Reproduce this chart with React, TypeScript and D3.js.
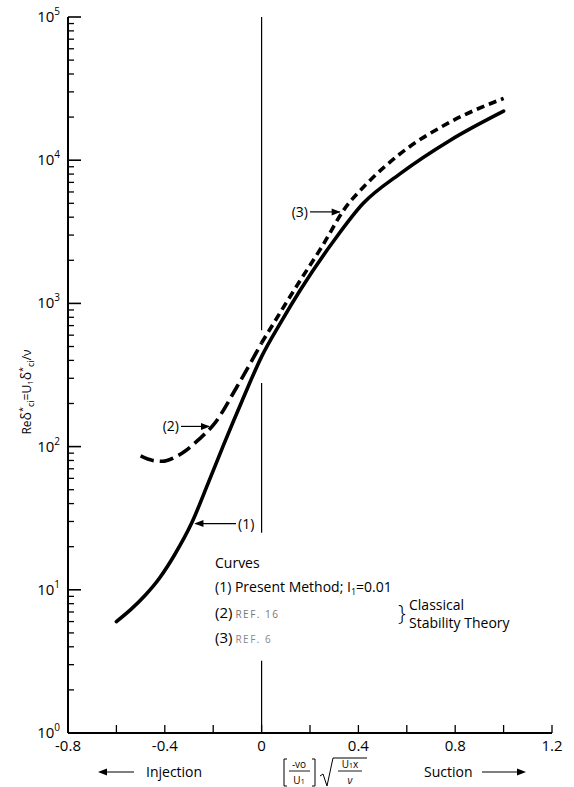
import * as d3 from "d3";

// axis ticks
const xTicks = [-0.8, -0.6, -0.4, -0.2, 0, 0.2, 0.4, 0.6, 0.8, 1.0, 1.2];
const xTickLabels = ["-0.8", "-0.4", "0", "0.4", "0.8", "1.2"];
const xLabelValues = [-0.8, -0.4, 0, 0.4, 0.8, 1.2];
const yDecades = [0, 1, 2, 3, 4, 5];
const minorMult = [2, 3, 4, 5, 6, 7, 8, 9];

// curve (1) present method
const presentX = [-0.6, -0.54, -0.48, -0.42, -0.36, -0.29, -0.22, -0.16, -0.08, 0, 0.08, 0.16, 0.3, 0.42, 0.57, 0.78, 1.0];
const presentRe = [6, 7.3, 9.2, 12.2, 17.5, 29, 56, 100, 210, 425, 740, 1240, 2760, 5000, 8000, 13800, 22000];

// curve (2) ref. 16
const ref16X = [-0.5, -0.45, -0.41, -0.36, -0.32, -0.26, -0.2, -0.1, 0];
const ref16Re = [86, 80, 79, 84, 92, 112, 141, 265, 530];

// curve (3) ref. 6
const ref6X = [0, 0.08, 0.16, 0.25, 0.34, 0.44, 0.57, 0.78, 1.0];
const ref6Re = [530, 880, 1450, 2500, 4500, 7000, 11000, 18500, 27000];

const W = 574;
const H = 787;
const font = "'Open Sans', 'Liberation Sans', sans-serif";

export default function App() {
  const x = d3.scaleLinear().domain([-0.8, 1.2]).range([68, 552]);
  const y = d3.scaleLog().domain([1, 1e5]).range([733, 17]);

  const line = d3
    .line<[number, number]>()
    .x(d => x(d[0]))
    .y(d => y(d[1]))
    .curve(d3.curveMonotoneX);

  const zip = (xs: number[], vs: number[]) => xs.map((v, i) => [v, vs[i]] as [number, number]);
  const interp = (xs: number[], vs: number[], at: number) => {
    const i = Math.max(1, d3.bisectLeft(xs, at));
    const t = (at - xs[i - 1]) / (xs[i] - xs[i - 1]);
    return Math.pow(10, Math.log10(vs[i - 1]) + t * (Math.log10(vs[i]) - Math.log10(vs[i - 1])));
  };

  const x0 = x(0);
  const arrowHead = (tx: number, ty: number, dir: number) =>
    `${tx},${ty} ${tx - dir * 9},${ty - 3.5} ${tx - dir * 9},${ty + 3.5}`;

  const tip1 = [x(-0.29), y(interp(presentX, presentRe, -0.29))];
  const tip2 = [x(-0.205), y(interp(ref16X, ref16Re, -0.205))];
  const tip3 = [x(0.335), y(interp(ref6X, ref6Re, 0.335))];

  // vertical reference line at zero (broken where the curves cross)
  const vSegments: [number, number][] = [
    [1e5, 650],
    [278, 25],
    [3.2, 1],
  ];

  return (
    <div style={{ position: "absolute", left: 0, top: 0 }}>
      <svg width={W} height={H} style={{ display: "block", background: "#fff" }} fontFamily={font}>
        {/* y axis */}
        <line x1={x(-0.8)} x2={x(-0.8)} y1={y(1e5)} y2={y(1)} stroke="#000" strokeWidth={2} />
        {yDecades.map(d => (
          <g key={"yd" + d}>
            <line x1={x(-0.8)} x2={x(-0.8) + 13} y1={y(Math.pow(10, d))} y2={y(Math.pow(10, d))} stroke="#000" strokeWidth={1.6} />
            <text x={x(-0.8) - 8} y={y(Math.pow(10, d)) + 5} fontSize={15} textAnchor="end">
              10
              <tspan dy={-7} fontSize={10}>{d}</tspan>
            </text>
          </g>
        ))}
        {yDecades.slice(0, 5).map(d =>
          minorMult.map(m => (
            <line
              key={`ym${d}-${m}`}
              x1={x(-0.8)}
              x2={x(-0.8) + 6}
              y1={y(m * Math.pow(10, d))}
              y2={y(m * Math.pow(10, d))}
              stroke="#000"
              strokeWidth={1.3}
            />
          ))
        )}

        {/* x axis */}
        <line x1={x(-0.8)} x2={x(1.2)} y1={y(1)} y2={y(1)} stroke="#000" strokeWidth={2} />
        {xTicks.map(t => (
          <line key={"xt" + t} x1={x(t)} x2={x(t)} y1={y(1)} y2={y(1) - 8} stroke="#000" strokeWidth={1.3} />
        ))}
        {xLabelValues.map((t, i) => (
          <text key={"xl" + t} x={x(t)} y={y(1) + 18} fontSize={15} textAnchor="middle">
            {xTickLabels[i]}
          </text>
        ))}

        {/* zero line */}
        {vSegments.map((s, i) => (
          <line key={"vs" + i} x1={x0} x2={x0} y1={y(s[0])} y2={y(s[1])} stroke="#000" strokeWidth={1.2} />
        ))}

        {/* curves */}
        <path d={line(zip(presentX, presentRe)) ?? ""} fill="none" stroke="#000" strokeWidth={3.6} strokeLinecap="round" />
        <path d={line(zip(ref16X, ref16Re)) ?? ""} fill="none" stroke="#000" strokeWidth={3.6} strokeDasharray="14 6" />
        <path d={line(zip(ref6X, ref6Re)) ?? ""} fill="none" stroke="#000" strokeWidth={3.6} strokeDasharray="8 5" />

        {/* annotations */}
        <line x1={tip1[0] + 4} x2={236} y1={tip1[1]} y2={tip1[1]} stroke="#000" strokeWidth={1.2} />
        <polygon points={arrowHead(tip1[0] + 3, tip1[1], -1)} fill="#000" />
        <text x={238} y={tip1[1] + 5} fontSize={14}>(1)</text>

        <line x1={181} x2={tip2[0] - 3} y1={tip2[1]} y2={tip2[1]} stroke="#000" strokeWidth={1.2} />
        <polygon points={arrowHead(tip2[0] - 2, tip2[1], 1)} fill="#000" />
        <text x={179} y={tip2[1] + 5} fontSize={14} textAnchor="end">(2)</text>

        <line x1={310} x2={tip3[0] - 3} y1={tip3[1]} y2={tip3[1]} stroke="#000" strokeWidth={1.2} />
        <polygon points={arrowHead(tip3[0] - 2, tip3[1], 1)} fill="#000" />
        <text x={308} y={tip3[1] + 5} fontSize={14} textAnchor="end">(3)</text>

        {/* legend */}
        <text x={215} y={568} fontSize={14}>Curves</text>
        <text x={215} y={592} fontSize={14}>
          (1) Present Method; I<tspan dy={3} fontSize={9}>1</tspan>
          <tspan dy={-3}>=0.01</tspan>
        </text>
        <text x={215} y={618} fontSize={15}>
          (2)<tspan fontSize={10} fill="#777" letterSpacing={1.5} dx={3}>REF. 16</tspan>
        </text>
        <text x={215} y={643} fontSize={15}>
          (3)<tspan fontSize={10} fill="#888" letterSpacing={1.5} dx={3}>REF. 6</tspan>
        </text>
        <text x={398} y={621} fontSize={22} fontWeight={200}>{"}"}</text>
        <text x={409} y={610} fontSize={14}>Classical</text>
        <text x={409} y={628} fontSize={14}>Stability  Theory</text>

        {/* y axis title */}
        <text transform="translate(31,392) rotate(-90)" fontSize={12} textAnchor="middle">
          Re<tspan fontSize={14}>δ</tspan>
          <tspan dy={-5} fontSize={9}>*</tspan>
          <tspan dy={8} fontSize={9}>ci</tspan>
          <tspan dy={-3}>=U</tspan>
          <tspan dy={2} fontSize={8}>1</tspan>
          <tspan dy={-2} fontSize={14}>δ</tspan>
          <tspan dy={-5} fontSize={9}>*</tspan>
          <tspan dy={8} fontSize={9}>ci</tspan>
          <tspan dy={-3}>/ν</tspan>
        </text>

        {/* x axis title */}
        <line x1={100} x2={134} y1={772} y2={772} stroke="#000" strokeWidth={1.2} />
        <polygon points={arrowHead(98, 772, -1)} fill="#000" />
        <text x={146} y={777} fontSize={14}>Injection</text>

        <text x={424} y={777} fontSize={14}>Suction</text>
        <line x1={482} x2={520} y1={772} y2={772} stroke="#000" strokeWidth={1.2} />
        <polygon points={arrowHead(526, 772, 1)} fill="#000" />

        <g fontSize={10}>
          <path d="M287,759 h-3 v27 h3 M312,759 h3 v27 h-3" fill="none" stroke="#000" strokeWidth={1} />
          <text x={299} y={768} textAnchor="middle">-vo</text>
          <line x1={289} x2={310} y1={771} y2={771} stroke="#000" strokeWidth={0.9} />
          <text x={299} y={784} textAnchor="middle">U<tspan fontSize={7}>1</tspan></text>
          <path d="M320,776 l3,-2 l4,12 l6,-28 h34" fill="none" stroke="#000" strokeWidth={1} />
          <text x={350} y={768} textAnchor="middle">U<tspan fontSize={7}>1</tspan>x</text>
          <line x1={338} x2={362} y1={771} y2={771} stroke="#000" strokeWidth={0.9} />
          <text x={350} y={784} textAnchor="middle" fontStyle="italic">ν</text>
        </g>
      </svg>
    </div>
  );
}
